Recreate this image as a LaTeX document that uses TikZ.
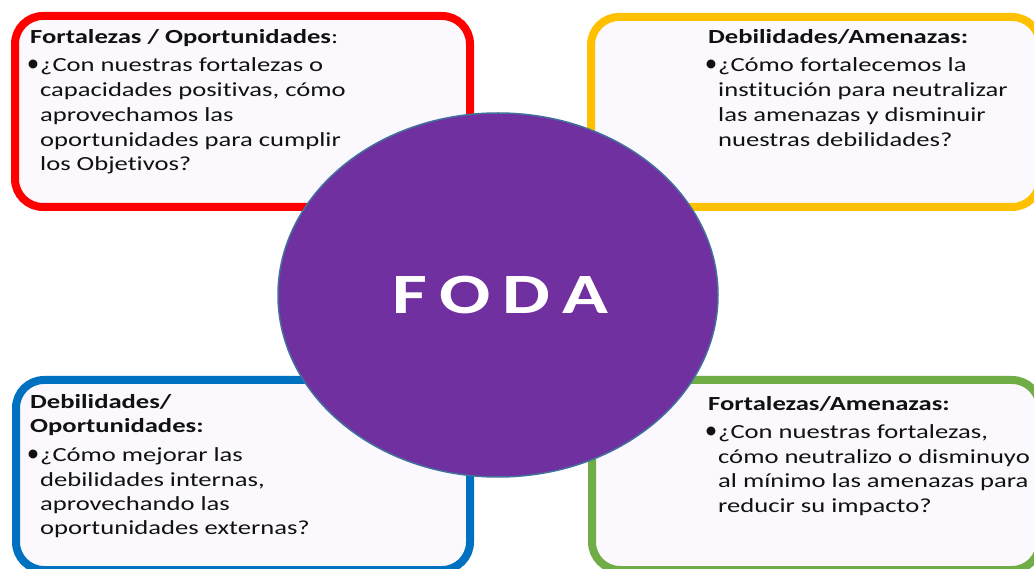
\documentclass[tikz,border=0pt]{standalone}
\usepackage{fontspec}
\setmainfont{Carlito}[FakeStretch=1.33, Ligatures=NoCommon]
\newfontfamily\bulfont{Carlito}
\usetikzlibrary{shapes.geometric}
\definecolor{cRed}{HTML}{FF0000}
\definecolor{cYel}{HTML}{FFC000}
\definecolor{cBlu}{HTML}{0070C0}
\definecolor{cGrn}{HTML}{70AD47}
\definecolor{cPur}{HTML}{7030A0}
\definecolor{cEdge}{HTML}{41719C}
\definecolor{cFill}{HTML}{FBF9FD}
\definecolor{cTxt}{HTML}{111111}
\tikzset{
  qbox/.style={line width=8pt, fill=cFill, rounded corners=28pt},
  txt/.style={anchor=base west, inner sep=0pt, text=cTxt, font=\fontsize{20}{24}\selectfont},
  ttl/.style={txt, font=\fontsize{20}{24}\selectfont\bfseries},
  bul/.style={anchor=base east, inner sep=0pt, text=cTxt, font=\bulfont\fontsize{25}{24}\selectfont},
}
\begin{document}
\begin{tikzpicture}[x=1pt, y=-1pt]
\clip (0,0) rectangle (1034,569);
\fill[white] (0,0) rectangle (1034,569);
% boxes
\draw[qbox, draw=cRed] (15,16) rectangle (470,207);
\draw[qbox, draw=cYel] (591,17) rectangle (1040,207);
\draw[qbox, draw=cBlu] (16,380) rectangle (470,570);
\draw[qbox, draw=cGrn] (592,380) rectangle (1040,570);
% central ellipse
\node[ellipse, fill=cPur, draw=cEdge, line width=1.5pt, minimum width=440pt, minimum height=364pt, inner sep=0pt] (foda) at (498,295) {};
\node[text=white, font=\fontsize{57}{60}\selectfont\bfseries, anchor=base] (fodatxt) at (500.5,314) {F\hspace{12pt}O\hspace{12pt}D\hspace{12pt}A};
% top-left
\node[ttl] (tlt) at (30,44) {Fortalezas / Oportunidades\mdseries:};
\node[bul] (tlb) at (39.5,72) {•};
\node[txt] (tl1) at (40,72) {¿Con nuestras fortalezas o};
\node[txt] (tl2) at (40,97) {capacidades positivas, cómo};
\node[txt] (tl3) at (40,122) {aprovechamos las};
\node[txt] (tl4) at (40,146.5) {oportunidades para cumplir};
\node[txt] (tl5) at (40,171) {los Objetivos?};
% top-right
\node[ttl] (trt) at (708,44) {Debilidades/Amenazas:};
\node[bul] (trb) at (717.5,72) {•};
\node[txt] (tr1) at (718,72) {¿Cómo fortalecemos la};
\node[txt] (tr2) at (718,97) {institución para neutralizar};
\node[txt] (tr3) at (718,122) {las amenazas y disminuir};
\node[txt] (tr4) at (718,146.5) {nuestras debilidades?};
% bottom-left
\node[ttl] (blt1) at (30,408) {Debilidades/};
\node[ttl] (blt2) at (30,432) {Oportunidades:};
\node[bul] (blb) at (39.5,461) {•};
\node[txt] (bl1) at (40,461) {¿Cómo mejorar las};
\node[txt] (bl2) at (40,486) {debilidades internas,};
\node[txt] (bl3) at (40,510) {aprovechando las};
\node[txt] (bl4) at (40,534.5) {oportunidades externas?};
% bottom-right
\node[ttl] (brt) at (708,410) {Fortalezas/Amenazas:};
\node[bul] (brb) at (717.5,438) {•};
\node[txt] (br1) at (718,438) {¿Con nuestras fortalezas,};
\node[txt] (br2) at (718,463) {cómo neutralizo o disminuyo};
\node[txt] (br3) at (718,487) {al mínimo las amenazas para};
\node[txt] (br4) at (718,512) {reducir su impacto?};
\end{tikzpicture}
\end{document}
